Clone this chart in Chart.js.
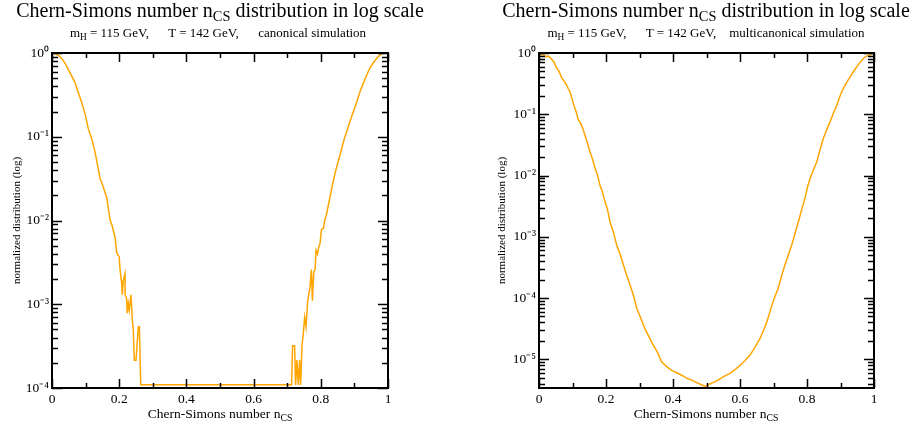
<!DOCTYPE html>
<html><head><meta charset="utf-8">
<script src="https://cdn.jsdelivr.net/npm/chart.js@4/dist/chart.umd.min.js"></script>
<style>
html,body{margin:0;padding:0;background:#fff;}
#wrap{position:relative;width:914px;height:429px;overflow:hidden;font-family:"Liberation Serif","Times New Roman",serif;color:#000;}
.cv{position:absolute;top:0;width:457px;height:429px;}
.t{position:absolute;white-space:pre;transform:translateX(-50%);}
.title{font-size:20px;line-height:20px;top:0px;}
.subt{font-size:13px;line-height:14px;top:26px;}
.xt{font-size:13.5px;line-height:16px;top:406px;}
sub{font-size:0.72em;vertical-align:-0.3em;line-height:0;}
</style></head>
<body>
<div id="wrap">
  <canvas id="c1" class="cv" width="457" height="429" style="left:0"></canvas>
  <canvas id="c2" class="cv" width="457" height="429" style="left:457px"></canvas>
  <div class="t title" style="left:220px">Chern-Simons number n<sub>CS</sub> distribution in log scale</div>
  <div class="t subt" style="left:218px">m<sub>H</sub> = 115 GeV,      T = 142 GeV,      canonical simulation</div>
  <div class="t xt" style="left:220px">Chern-Simons number n<sub>CS</sub></div>
  <div class="t title" style="left:706px">Chern-Simons number n<sub>CS</sub> distribution in log scale</div>
  <div class="t subt" style="left:706px">m<sub>H</sub> = 115 GeV,      T = 142 GeV,    multicanonical simulation</div>
  <div class="t xt" style="left:706px">Chern-Simons number n<sub>CS</sub></div>
</div>
<script>
// ---- data: canonical simulation (left panel) ----
const canonX = [0.000,0.010,0.020,0.030,0.039,0.050,0.060,0.068,0.078,0.088,0.098,0.108,0.118,0.128,0.136,0.143,0.153,0.163,0.170,0.173,0.178,0.183,0.188,0.1925,0.200,0.2024,0.2073,0.209,0.212,0.2173,0.2175,0.222,0.224,0.227,0.230,0.235,0.239,0.242,0.245,0.250,0.257,0.260,0.264,
  0.713,0.716,0.722,0.725,0.729,0.733,0.737,0.740,0.744,0.748,0.752,0.756,0.761,0.764,0.768,0.772,0.775,0.779,0.783,0.786,0.790,0.794,0.798,0.802,0.808,0.812,0.817,0.822,0.827,0.834,0.842,0.850,0.856,0.862,0.870,0.877,0.885,0.897,0.907,0.917,0.927,0.937,0.946,0.956,0.966,0.976,0.986,0.996,1.000];
const canonY = [1.00,0.98,0.93,0.85,0.75,0.62,0.52,0.45,0.34,0.26,0.19,0.125,0.095,0.066,0.045,0.032,0.025,0.0186,0.012,0.0102,0.0089,0.0075,0.0062,0.0041,0.0037,0.0026,0.0018,0.0013,0.0019,0.0023,0.0013,0.00118,0.00078,0.00102,0.00085,0.0013,0.00065,0.00049,0.000215,0.000215,0.00054,0.00054,1.09e-4,
  1.09e-4,3.2e-4,3.2e-4,1.09e-4,2.15e-4,1.09e-4,2.15e-4,1.09e-4,3.2e-4,4.5e-4,7.0e-4,5.4e-4,1.1e-3,1.3e-3,1.6e-3,2.6e-3,1.1e-3,2.4e-3,2.6e-3,4.4e-3,4.0e-3,4.8e-3,5.4e-3,7.8e-3,8.1e-3,0.0102,0.0118,0.0150,0.0186,0.026,0.036,0.048,0.058,0.072,0.095,0.115,0.145,0.20,0.26,0.35,0.44,0.55,0.66,0.76,0.86,0.95,0.99,1.00,0.98];

// ---- data: multicanonical simulation (right panel) ----
const multiX = [0.000,0.003,0.012,0.020,0.028,0.036,0.045,0.053,0.060,0.068,0.075,0.082,0.087,0.093,0.098,0.105,0.111,0.117,0.124,0.130,0.137,0.144,0.152,0.159,0.167,0.174,0.182,0.189,0.197,0.204,0.212,0.222,0.232,0.242,0.252,0.262,0.272,0.282,0.292,0.304,0.316,0.328,0.341,0.353,0.366,0.381,0.396,0.411,0.426,0.441,0.456,0.471,0.486,0.496,0.505,0.510,0.525,0.540,0.555,0.570,0.585,0.600,0.615,0.630,0.645,0.660,0.670,0.680,0.688,0.695,0.704,0.714,0.724,0.734,0.744,0.754,0.764,0.774,0.784,0.794,0.801,0.809,0.819,0.829,0.839,0.849,0.859,0.869,0.879,0.889,0.898,0.908,0.923,0.938,0.953,0.968,0.978,0.988,0.996,1.000];
const multiY = [1.00,0.933,0.955,0.871,0.891,0.813,0.708,0.562,0.501,0.389,0.347,0.302,0.263,0.229,0.182,0.135,0.110,0.0813,0.0724,0.0603,0.0457,0.0347,0.0245,0.0191,0.0132,0.0105,0.00692,0.00550,0.00372,0.00288,0.00174,0.00120,7.24e-4,5.25e-4,3.47e-4,2.34e-4,1.62e-4,1.10e-4,6.76e-5,4.68e-5,3.16e-5,2.34e-5,1.70e-5,1.32e-5,9.12e-6,7.59e-6,6.61e-6,6.03e-6,5.50e-6,4.90e-6,4.57e-6,4.17e-6,3.80e-6,3.63e-6,3.80e-6,3.98e-6,4.27e-6,4.79e-6,5.37e-6,5.89e-6,6.76e-6,7.94e-6,9.55e-6,1.17e-5,1.58e-5,2.19e-5,2.95e-5,4.07e-5,5.62e-5,7.59e-5,1.05e-4,1.45e-4,2.29e-4,3.47e-4,5.01e-4,7.24e-4,1.12e-3,1.74e-3,2.75e-3,4.27e-3,6.31e-3,8.91e-3,0.0123,0.0166,0.0263,0.0407,0.0562,0.0759,0.105,0.141,0.195,0.263,0.363,0.490,0.646,0.813,0.891,0.933,0.977,1.00];

// axis ranges
const xRange = [0, 1];
const canonYRange = [1e-4, 1];
const multiYRange = [3.4e-6, 1];
const yTitle = 'normalized distribution (log)';

const SUP = {'0':'⁰','1':'¹','2':'²','3':'³','4':'⁴','5':'⁵','6':'⁶','7':'⁷','8':'⁸','9':'⁹','-':'⁻'};
const supStr = s => String(s).split('').map(c => SUP[c] || c).join('');
const FONT = '"Liberation Serif","Times New Roman",serif';

const frame = {
  id: 'frame',
  afterDraw(chart) {
    const {ctx, chartArea: {left, right, top, bottom}, scales: {x, y}} = chart;
    ctx.save();
    ctx.strokeStyle = '#000';
    ctx.lineWidth = 1.5;
    ctx.beginPath();
    x.ticks.forEach(t => {
      const px = Math.round(x.getPixelForValue(t.value)) + 0.5;
      const major = Math.round(t.value * 10) % 2 === 0;
      const len = major ? 9 : 5;
      ctx.moveTo(px, bottom); ctx.lineTo(px, bottom - len);
      ctx.moveTo(px, top); ctx.lineTo(px, top + len);
    });
    const e0 = Math.floor(Math.log10(y.min)), e1 = Math.ceil(Math.log10(y.max));
    for (let e = e0; e <= e1; e++) {
      for (let m = 1; m <= 9; m++) {
        const v = m * Math.pow(10, e);
        if (v < y.min * 0.9999 || v > y.max * 1.0001) continue;
        const py = Math.round(y.getPixelForValue(v)) + 0.5;
        const len = m === 1 ? 10 : 6;
        ctx.moveTo(left, py); ctx.lineTo(left + len, py);
        ctx.moveTo(right, py); ctx.lineTo(right - len, py);
      }
    }
    ctx.stroke();
    ctx.lineWidth = 2;
    ctx.strokeRect(left, top, right - left, bottom - top);
    ctx.restore();
  }
};

function makeChart(id, xs, ys, yRange, yAxisWidth, rightPad, titlePad) {
  return new Chart(document.getElementById(id), {
    type: 'line',
    data: {datasets: [{
      data: xs.map((v, i) => ({x: v, y: ys[i]})),
      borderColor: '#FFA500', borderWidth: 1.5, pointRadius: 0, tension: 0, fill: false
    }]},
    options: {
      responsive: false, animation: false, devicePixelRatio: 1,
      layout: {padding: {left: 0, right: rightPad, top: 53, bottom: 0}},
      plugins: {legend: {display: false}, tooltip: {enabled: false}},
      scales: {
        x: {
          type: 'linear', min: xRange[0], max: xRange[1],
          grid: {display: false, drawTicks: false}, border: {display: false},
          ticks: {stepSize: 0.1, autoSkip: false, maxRotation: 0, padding: 3, color: '#000',
            font: {family: FONT, size: 13.5},
            callback: v => { const k = Math.round(v * 10); return k % 2 === 0 ? String(k / 10) : ''; }},
          afterFit: s => { s.height = 41; }
        },
        y: {
          type: 'logarithmic', min: yRange[0], max: yRange[1],
          grid: {display: false, drawTicks: false}, border: {display: false},
          ticks: {autoSkip: false, padding: 3, color: '#000', font: {family: FONT, size: 13.5},
            callback: v => { const e = Math.log10(v); const r = Math.round(e); return Math.abs(e - r) < 1e-6 ? '10' + supStr(r) : ''; }},
          title: {display: true, text: yTitle, color: '#000', font: {family: FONT, size: 11}, padding: {top: titlePad, bottom: 0}},
          afterFit: s => { s.width = yAxisWidth; }
        }
      }
    },
    plugins: [frame]
  });
}

makeChart('c1', canonX, canonY, canonYRange, 52, 69, 11);
makeChart('c2', multiX, multiY, multiYRange, 82, 40, 39);
</script>
</body></html>
